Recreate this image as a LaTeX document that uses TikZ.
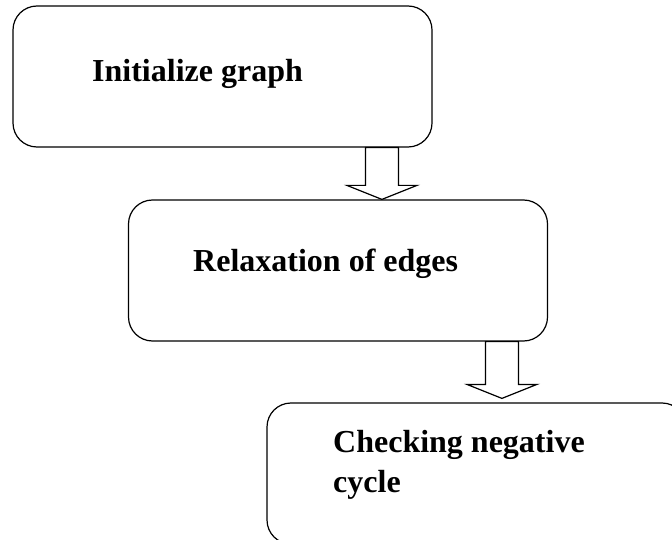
\documentclass[tikz,border=0pt]{standalone}
\usepackage{fontspec}
\setmainfont{Liberation Serif}
\usetikzlibrary{calc}
\tikzset{
  flowbox/.style={draw=black, line width=1.2pt, rounded corners=24pt, minimum width=419pt, minimum height=141pt, inner sep=0pt},
  boxtext/.style={font=\bfseries\fontsize{32}{40}\selectfont, inner sep=0pt, anchor=base west, align=left},
  blockarrow/.style={draw=black, fill=white, line width=1.2pt, line join=miter,
    to path={let \p1=(\tikztostart), \p2=(\tikztotarget) in
      (\x1-16.5pt,\y1) -- (\x1-16.5pt,\y2+14pt) -- (\x1-35pt,\y2+14pt) -- (\x2,\y2)
      -- (\x1+35pt,\y2+14pt) -- (\x1+16.5pt,\y2+14pt) -- (\x1+16.5pt,\y1) -- cycle}}
}
\begin{document}
\begin{tikzpicture}[x=1pt,y=-1pt]
\useasboundingbox (0,0) rectangle (672,540);
\clip (0,0) rectangle (672,540);
\node[flowbox] (b1) at (222.5,76.5) {};
\node[flowbox] (b2) at (338,270.5) {};
\node[flowbox] (b3) at (476.5,473.5) {};
\node[boxtext] (t1) at (92,82) {Initialize graph};
\node[boxtext] (t2) at (193,271) {Relaxation of edges};
\node[boxtext] (t3) at (333,492) {Checking negative\\cycle};
\coordinate (s1) at ($(b1.south west)+(369.5,0)$);
\coordinate (s2) at ($(b2.south west)+(374,0)$);
\draw[blockarrow] (s1) to (s1 |- b2.north);
\draw[blockarrow] (s2) to ($(s2 |- b3.north)+(0,-4)$);
\end{tikzpicture}
\end{document}
